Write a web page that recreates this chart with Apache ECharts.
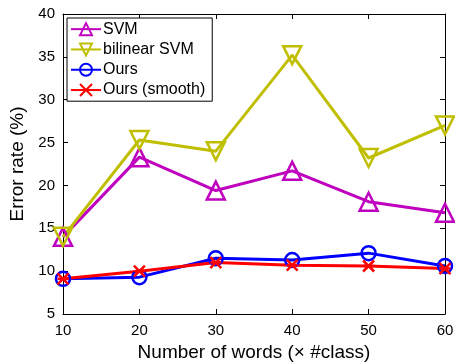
<!DOCTYPE html>
<html><head><meta charset="utf-8">
<script src="https://cdn.jsdelivr.net/npm/echarts@6/dist/echarts.min.js"></script>
<style>html,body{margin:0;padding:0;background:#fff}#c{width:455px;height:363px}</style>
</head><body><div id="c"></div>
<script>
const words = [10, 20, 30, 40, 50, 60];
const svm = [14.0, 23.3, 19.4, 21.7, 18.1, 16.8];
const bilinearSvm = [14.0, 25.3, 24.0, 35.2, 23.2, 27.0];
const ours = [9.1, 9.3, 11.5, 11.3, 12.1, 10.6];
const oursSmooth = [9.1, 10.0, 11.0, 10.7, 10.6, 10.3];
const seriesNames = ['SVM', 'bilinear SVM', 'Ours', 'Ours (smooth)'];

const font = 'Liberation Sans, Arial, Helvetica, sans-serif';
const pair = arr => words.map((w, i) => [w, arr[i]]);
const crossPath = 'path://M0,0L10,10M10,0L0,10M0,5L10,5';

function mk(name, data, color, symbol, size, rotate) {
  return {
    name, type: 'line', data: pair(data), symbol, symbolSize: size, symbolRotate: rotate || 0,
    lineStyle: { color, width: 3 },
    itemStyle: { color: 'transparent', borderColor: color, borderWidth: 2.5 },
    emphasis: { disabled: true }, animation: false, z: 3
  };
}

const chart = echarts.init(document.getElementById('c'));
const axisCommon = {
  axisLine: { lineStyle: { color: '#000', width: 1 } },
  axisTick: { inside: true, length: 5, lineStyle: { color: '#000' } },
  splitLine: { show: false }
};
chart.setOption({
  animation: false,
  grid: { left: 63, right: 10, top: 14, bottom: 49, containLabel: false, outerBoundsMode: 'none' },
  legend: {
    orient: 'vertical', left: 67, top: 18, data: seriesNames,
    backgroundColor: '#fff', borderColor: '#000', borderWidth: 1,
    padding: [1, 7, 1, 3], itemGap: 0, itemWidth: 30, itemHeight: 15,
    textStyle: { fontFamily: font, fontSize: 16, lineHeight: 20.3, color: '#000', padding: [0, 0, 0, -3] }
  },
  xAxis: [
    Object.assign({ type: 'value', min: 10, max: 60, interval: 10,
      name: 'Number of words (× #class)', nameLocation: 'middle', nameGap: 26,
      nameTextStyle: { fontFamily: font, fontSize: 19, color: '#000' },
      axisLabel: { fontFamily: font, fontSize: 15, color: '#000', margin: 9 } }, axisCommon),
    Object.assign({ type: 'value', position: 'top', min: 10, max: 60, interval: 10,
      axisLabel: { show: false } }, axisCommon)
  ],
  yAxis: [
    Object.assign({ type: 'value', min: 5, max: 40, interval: 5,
      name: 'Error rate (%)', nameLocation: 'middle', nameGap: 34,
      nameTextStyle: { fontFamily: font, fontSize: 19, color: '#000' },
      axisLabel: { fontFamily: font, fontSize: 15, color: '#000', margin: 8 } }, axisCommon),
    Object.assign({ type: 'value', position: 'right', min: 5, max: 40, interval: 5,
      axisLabel: { show: false } }, axisCommon)
  ],
  series: [
    mk('SVM', svm, '#bf00bf', 'triangle', 18),
    mk('bilinear SVM', bilinearSvm, '#bfbf00', 'triangle', 18, 180),
    mk('Ours', ours, '#0000ff', 'circle', 14),
    mk('Ours (smooth)', oursSmooth, '#ff0000', crossPath, 11)
  ]
});
</script></body></html>
